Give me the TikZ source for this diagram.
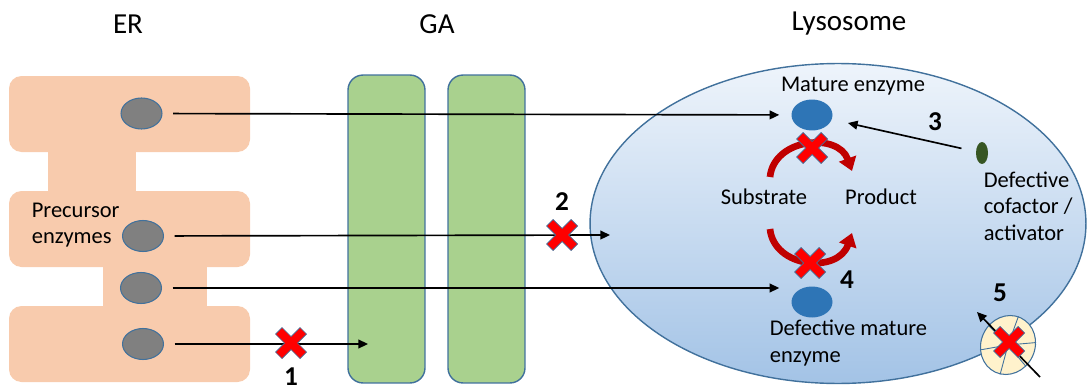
\documentclass[tikz,border=0pt]{standalone}
\usepackage{fontspec}
\setmainfont{Carlito}
\usetikzlibrary{shapes.geometric,arrows.meta}

\definecolor{ercol}{HTML}{F8CBAD}
\definecolor{gacol}{HTML}{A9D18E}
\definecolor{edgeblue}{HTML}{41719C}
\definecolor{enzblue}{HTML}{2E75B6}
\definecolor{cofgreen}{HTML}{375623}
\definecolor{chanyellow}{HTML}{FFF2CC}
\definecolor{arcred}{HTML}{C00000}
\definecolor{lysotop}{HTML}{EEF4FB}
\definecolor{lysobot}{HTML}{A3C3E6}

\tikzset{
  title/.style={font=\fontsize{16.5}{19}\selectfont},
  lbl/.style={font=\fontsize{12.8}{15}\selectfont, align=left, inner sep=0pt},
  num/.style={font=\fontsize{15.5}{18}\selectfont\bfseries, inner sep=0pt},
  precursor/.style={ellipse, draw=edgeblue, fill=black!50, line width=0.6pt,
    minimum width=0.82cm, minimum height=0.62cm, inner sep=0pt},
  mature/.style={ellipse, fill=enzblue, minimum width=0.82cm, minimum height=0.62cm, inner sep=0pt},
  golgi/.style={draw=edgeblue, fill=gacol, rounded corners=0.3cm,
    minimum width=1.54cm, minimum height=6.16cm, line width=0.8pt},
  redarc/.style={draw=arcred, line width=3.8pt, -{Triangle[length=7.5pt,width=10pt]}},
  xmark/.pic={
    \filldraw[fill=red, draw=edgeblue, line width=0.4pt]
      (0,6.5) -- (9,15.5) -- (15.5,9) -- (6.5,0) -- (15.5,-9) -- (9,-15.5)
      -- (0,-6.5) -- (-9,-15.5) -- (-15.5,-9) -- (-6.5,0) -- (-15.5,9) -- (-9,15.5) -- cycle;
  }
}

\begin{document}
\begin{tikzpicture}[x=0.02cm, y=-0.02cm, ->, >={Triangle[length=5.5pt,width=5pt]}, line width=0.95pt]
  \useasboundingbox (0,0) rectangle (1089,392);

  % ER
  \fill[ercol, rounded corners=0.25cm] (9,76) rectangle (250,152);
  \fill[ercol] (48,140) rectangle (136,200);
  \fill[ercol, rounded corners=0.25cm] (9,191) rectangle (250,267);
  \fill[ercol] (103,260) rectangle (207,312);
  \fill[ercol, rounded corners=0.25cm] (9,306) rectangle (250,382);

  % GA and lysosome
  \node[golgi] (ga1) at (386.5,229) {};
  \node[golgi] (ga2) at (486.5,229) {};
  \node[ellipse, draw=edgeblue, line width=0.8pt, top color=lysotop, bottom color=lysobot,
    minimum width=9.92cm, minimum height=6.4cm] (lyso) at (838,223.5) {};

  \node[title] (er) at (128,24) {ER};
  \node[title] (ga) at (437,24) {GA};
  \node[title] (lys) at (849,24) {Lysosome};

  \node[precursor] (e1) at (141.5,113.5) {};
  \node[precursor] (e2) at (143,236) {};
  \node[precursor] (e3) at (141,288) {};
  \node[precursor] (e4) at (143,344) {};
  \node[lbl, anchor=west] (pre) at (31,225) {Precursor\\enzymes};

  \node[mature] (m) at (812,115) {};
  \node[mature] (dm) at (812,302) {};
  \node[ellipse, fill=cofgreen, minimum width=0.24cm, minimum height=0.44cm, inner sep=0pt] (cof) at (982,153) {};
  \node[ellipse, draw=edgeblue, fill=chanyellow, line width=0.6pt, rotate=-25,
    minimum width=1.08cm, minimum height=1.2cm, inner sep=0pt] (tr) at (1008,345) {};
  \foreach \a in {30,95,160,215,280,335}
    \draw[-, edgeblue, line width=0.5pt] (tr.center) -- (tr.\a);

  \node[lbl] (mlbl) at (853,86) {Mature enzyme};
  \node[lbl] (sub) at (764,197) {Substrate};
  \node[lbl] (prod) at (881,197) {Product};
  \node[lbl, anchor=west] (dmlbl) at (769,343) {Defective mature\\enzyme};
  \node[lbl, anchor=west] (coflbl) at (983,206) {Defective\\cofactor /\\activator};

  \coordinate (c2) at (610,235);
  \coordinate (c1) at (368,344);
  \coordinate (tin) at (1040,377);
  \coordinate (tout) at (977,312);

  \path
    (e1) edge[shorten <=6pt, shorten >=6.5pt] (m)
    (e2) edge[shorten <=6pt] (c2)
    (e3) edge[shorten <=6pt, shorten >=6.5pt] (e3 -| dm.west)
    (e4) edge[shorten <=6pt] (c1)
    (cof) edge[shorten <=8pt, shorten >=9pt] (m)
    (tin) edge (tout);

  \draw[redarc] (770,177) .. controls (774,138) and (838,132) .. (852,171);
  \draw[redarc] (770,229) .. controls (774,268) and (838,274) .. (852,233);

  \pic at (812,148) {xmark};
  \pic at (810,263) {xmark};
  \pic at (562,235) {xmark};
  \pic at (291,343) {xmark};
  \pic at (1009,342) {xmark};

  \node[num] (n1) at (291,377) {1};
  \node[num] (n2) at (562,202) {2};
  \node[num] (n3) at (935,122) {3};
  \node[num] (n4) at (847,280) {4};
  \node[num] (n5) at (1000,293) {5};
\end{tikzpicture}
\end{document}
